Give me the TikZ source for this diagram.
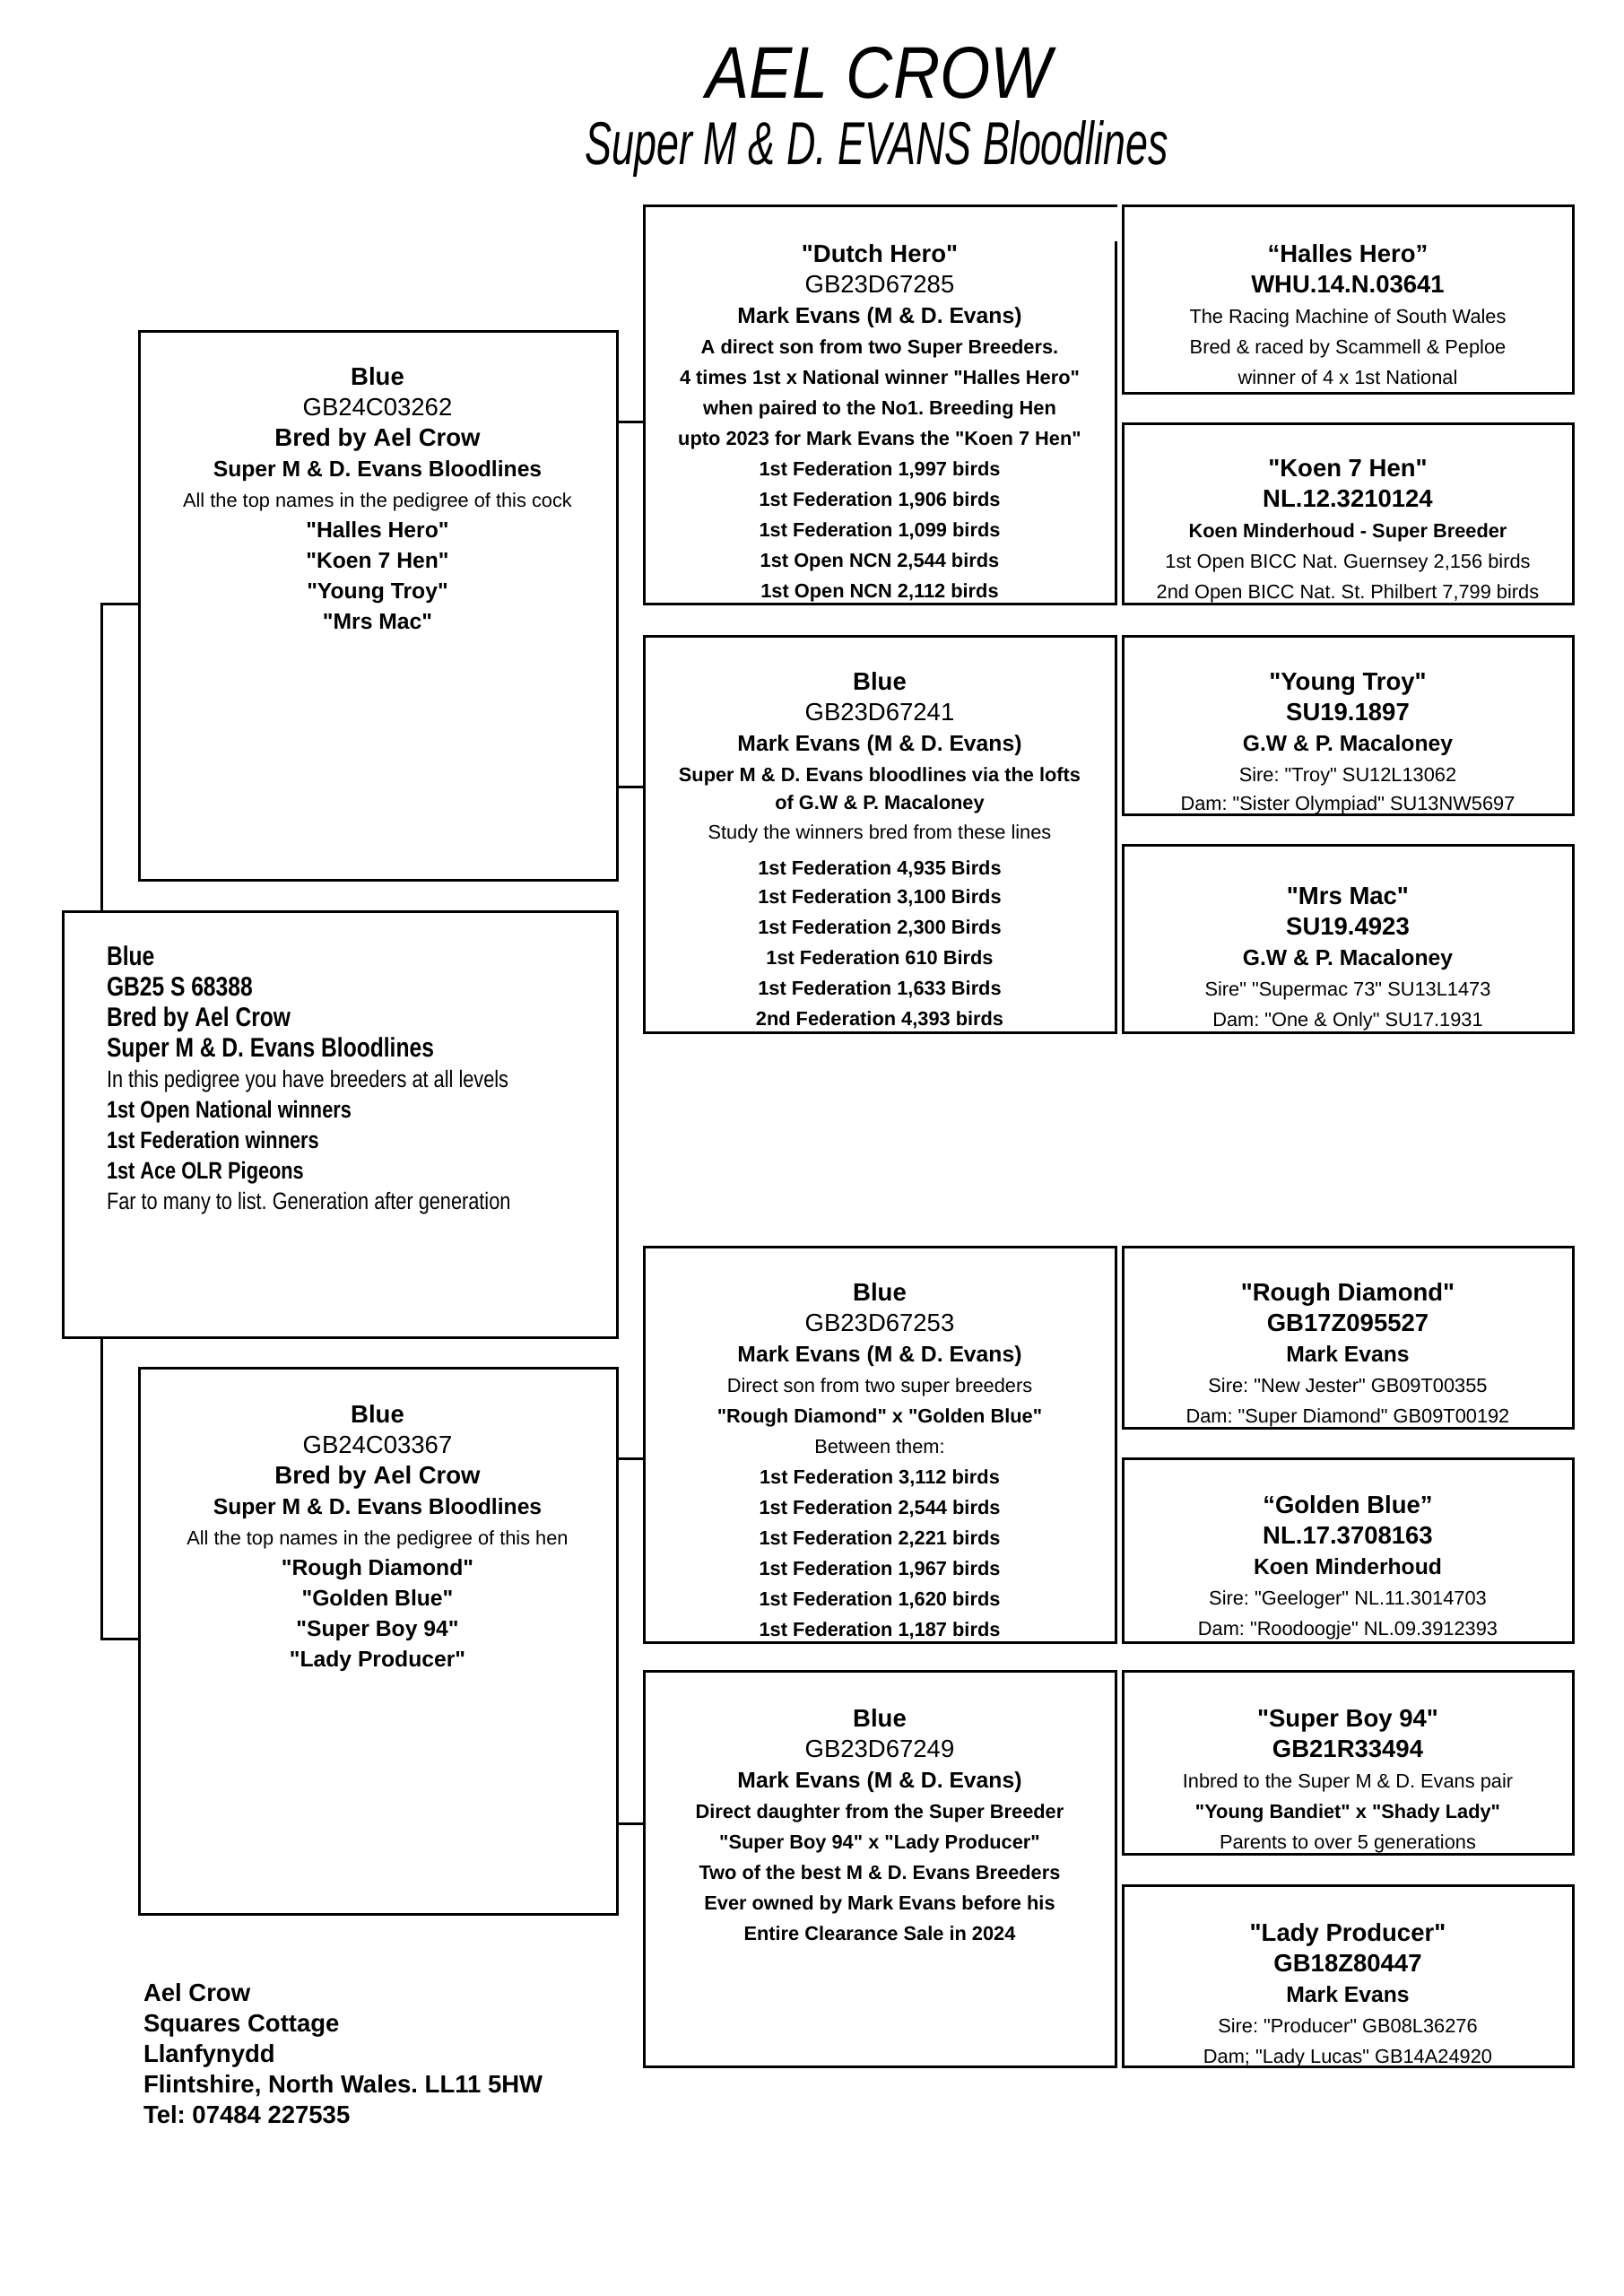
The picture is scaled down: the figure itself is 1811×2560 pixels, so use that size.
\documentclass[tikz,border=0pt]{standalone}
\usepackage{fontspec}
\usepackage{graphicx}
\newfontfamily\basefont{Liberation Sans}
\newfontfamily\narrowfont[FakeStretch=0.82]{Liberation Sans}
\newcommand\fLb{\basefont\fontsize{27.5}{34}\selectfont\bfseries}
\newcommand\fLr{\basefont\fontsize{27.5}{34}\selectfont\mdseries}
\newcommand\fMb{\basefont\fontsize{24.7}{34}\selectfont\bfseries}
\newcommand\fSb{\basefont\fontsize{21.8}{34}\selectfont\bfseries}
\newcommand\fSr{\basefont\fontsize{21.8}{34}\selectfont\mdseries}
\newcommand\fNb{\narrowfont\fontsize{30}{34}\selectfont\bfseries}
\newcommand\fNs{\narrowfont\fontsize{26.5}{34}\selectfont\bfseries}
\newcommand\fNr{\narrowfont\fontsize{26.5}{34}\selectfont\mdseries}
\tikzset{
  pbox/.style={draw=black, line width=3pt, fill=white, inner sep=0pt, outer sep=0pt, anchor=north west},
  conn/.style={draw=black, line width=3pt, line cap=rect},
  txt/.style={inner sep=0pt, outer sep=0pt, anchor=base, font=\basefont\fontsize{21.8}{34}\selectfont},
  txtl/.style={txt, anchor=base west},
}
\begin{document}
\frenchspacing
\begin{tikzpicture}[x=1pt,y=-1pt]
\useasboundingbox (0,0) rectangle (1811,2560);
\fill[white] (0,0) rectangle (1811,2560);

% title
\node[txt] (title) at (980,109) {\resizebox{385pt}{57pt}{\basefont\itshape AEL CROW}};
\node[txt] (subtitle) at (978,183) {\resizebox{650pt}{49pt}{\basefont\itshape Super M \& D. EVANS Bloodlines}};

% boxes
\node[pbox, minimum width=618pt, minimum height=475pt] (g1) at (70,1016) {};
\node[pbox, minimum width=533pt, minimum height=612pt] (g2a) at (155,369) {};
\node[pbox, minimum width=533pt, minimum height=609pt] (g2b) at (155,1525) {};
\node[pbox, draw=none, minimum width=526pt, minimum height=444pt] (g3a) at (718,229) {};
\draw[conn, line cap=butt] ([yshift=-40pt]g3a.north east) -- (g3a.south east) -- (g3a.south west) -- (g3a.north west) -- ([xshift=1.5pt]g3a.north east);
\node[pbox, minimum width=526pt, minimum height=442pt] (g3b) at (718,709) {};
\node[pbox, minimum width=526pt, minimum height=441pt] (g3c) at (718,1390) {};
\node[pbox, minimum width=526pt, minimum height=441pt] (g3d) at (718,1863) {};
\node[pbox, minimum width=502pt, minimum height=209pt] (g4a) at (1252,229) {};
\node[pbox, minimum width=502pt, minimum height=201pt] (g4b) at (1252,472) {};
\node[pbox, minimum width=502pt, minimum height=199pt] (g4c) at (1252,709) {};
\node[pbox, minimum width=502pt, minimum height=209pt] (g4d) at (1252,942) {};
\node[pbox, minimum width=502pt, minimum height=202pt] (g4e) at (1252,1390) {};
\node[pbox, minimum width=502pt, minimum height=205pt] (g4f) at (1252,1626) {};
\node[pbox, minimum width=502pt, minimum height=204pt] (g4g) at (1252,1863) {};
\node[pbox, minimum width=502pt, minimum height=202pt] (g4h) at (1252,2102) {};

% connectors
\coordinate (bx) at (113,0);
\draw[conn] (g2a.west |- 0,673) -| (bx |- g1.north);
\draw[conn] (g2b.west |- 0,1827) -| (bx |- g1.south);
\draw[conn] (g2a.east |- 0,470) -- (g3a.west |- 0,470);
\draw[conn] (g2a.east |- 0,877) -- (g3b.west |- 0,877);
\draw[conn] (g2b.east |- 0,1626) -- (g3c.west |- 0,1626);
\draw[conn] (g2b.east |- 0,2033) -- (g3d.west |- 0,2033);

% generation 1
\node[txtl] (t1) at (119,1076) {\begin{tabular}[t]{@{}l@{}}
\fNb Blue\\
\fNb GB25 S 68388\\
\fNb Bred by Ael Crow\\
\fNb Super M \& D. Evans Bloodlines\\
\fNr In this pedigree you have breeders at all levels\\
\fNs 1st Open National winners\\
\fNs 1st Federation winners\\
\fNs 1st Ace OLR Pigeons\\
\fNr Far to many to list. Generation after generation
\end{tabular}};

% generation 2
\node[txt] (t2a) at (421,429) {\begin{tabular}[t]{@{}c@{}}
\fLb Blue\\
\fLr GB24C03262\\
\fLb Bred by Ael Crow\\
\fMb Super M \& D. Evans Bloodlines\\
\fSr All the top names in the pedigree of this cock\\
\fMb "Halles Hero"\\
\fMb "Koen 7 Hen"\\
\fMb "Young Troy"\\
\fMb "Mrs Mac"
\end{tabular}};
\node[txt] (t2b) at (421,1586) {\begin{tabular}[t]{@{}c@{}}
\fLb Blue\\
\fLr GB24C03367\\
\fLb Bred by Ael Crow\\
\fMb Super M \& D. Evans Bloodlines\\
\fSr All the top names in the pedigree of this hen\\
\fMb "Rough Diamond"\\
\fMb "Golden Blue"\\
\fMb "Super Boy 94"\\
\fMb "Lady Producer"
\end{tabular}};

% generation 3
\node[txt] (t3a) at (981,292) {\begin{tabular}[t]{@{}c@{}}
\fLb "Dutch Hero"\\
\fLr GB23D67285\\
\fMb Mark Evans (M \& D. Evans)\\
\fSb A direct son from two Super Breeders.\\
\fSb 4 times 1st x National winner "Halles Hero"\\
\fSb when paired to the No1. Breeding Hen\\
\fSb upto 2023 for Mark Evans the "Koen 7 Hen"\\
\fSb 1st Federation 1,997 birds\\
\fSb 1st Federation 1,906 birds\\
\fSb 1st Federation 1,099 birds\\
\fSb 1st Open NCN 2,544 birds\\
\fSb 1st Open NCN 2,112 birds
\end{tabular}};
\node[txt] (t3b) at (981,769) {\begin{tabular}[t]{@{}c@{}}
\fLb Blue\\
\fLr GB23D67241\\
\fMb Mark Evans (M \& D. Evans)\\
\fSb Super M \& D. Evans bloodlines via the lofts\\[-3pt]
\fSb of G.W \& P. Macaloney\\[-1pt]
\fSr Study the winners bred from these lines\\[6pt]
\fSb 1st Federation 4,935 Birds\\[-2pt]
\fSb 1st Federation 3,100 Birds\\
\fSb 1st Federation 2,300 Birds\\
\fSb 1st Federation 610 Birds\\
\fSb 1st Federation 1,633 Birds\\
\fSb 2nd Federation 4,393 birds
\end{tabular}};
\node[txt] (t3c) at (981,1450) {\begin{tabular}[t]{@{}c@{}}
\fLb Blue\\
\fLr GB23D67253\\
\fMb Mark Evans (M \& D. Evans)\\
\fSr Direct son from two super breeders\\
\fSb "Rough Diamond" x "Golden Blue"\\
\fSr Between them:\\
\fSb 1st Federation 3,112 birds\\
\fSb 1st Federation 2,544 birds\\
\fSb 1st Federation 2,221 birds\\
\fSb 1st Federation 1,967 birds\\
\fSb 1st Federation 1,620 birds\\
\fSb 1st Federation 1,187 birds
\end{tabular}};
\node[txt] (t3d) at (981,1925) {\begin{tabular}[t]{@{}c@{}}
\fLb Blue\\
\fLr GB23D67249\\
\fMb Mark Evans (M \& D. Evans)\\
\fSb Direct daughter from the Super Breeder\\
\fSb "Super Boy 94" x "Lady Producer"\\
\fSb Two of the best M \& D. Evans Breeders\\
\fSb Ever owned by Mark Evans before his\\
\fSb Entire Clearance Sale in 2024
\end{tabular}};

% generation 4
\node[txt] (t4a) at (1503,292) {\begin{tabular}[t]{@{}c@{}}
\fLb “Halles Hero”\\
\fLb WHU.14.N.03641\\
\fSr The Racing Machine of South Wales\\
\fSr Bred \& raced by Scammell \& Peploe\\
\fSr winner of 4 x 1st National
\end{tabular}};
\node[txt] (t4b) at (1503,531) {\begin{tabular}[t]{@{}c@{}}
\fLb "Koen 7 Hen"\\
\fLb NL.12.3210124\\
\fSb Koen Minderhoud - Super Breeder\\
\fSr 1st Open BICC Nat. Guernsey 2,156 birds\\
\fSr 2nd Open BICC Nat. St. Philbert 7,799 birds
\end{tabular}};
\node[txt] (t4c) at (1503,769) {\begin{tabular}[t]{@{}c@{}}
\fLb "Young Troy"\\
\fLb SU19.1897\\
\fMb G.W \& P. Macaloney\\
\fSr Sire: "Troy" SU12L13062\\[-2pt]
\fSr Dam: "Sister Olympiad" SU13NW5697
\end{tabular}};
\node[txt] (t4d) at (1503,1008) {\begin{tabular}[t]{@{}c@{}}
\fLb "Mrs Mac"\\
\fLb SU19.4923\\
\fMb G.W \& P. Macaloney\\
\fSr Sire" "Supermac 73" SU13L1473\\
\fSr Dam: "One \& Only" SU17.1931
\end{tabular}};
\node[txt] (t4e) at (1503,1450) {\begin{tabular}[t]{@{}c@{}}
\fLb "Rough Diamond"\\
\fLb GB17Z095527\\
\fMb Mark Evans\\
\fSr Sire: "New Jester" GB09T00355\\
\fSr Dam: "Super Diamond" GB09T00192
\end{tabular}};
\node[txt] (t4f) at (1503,1687) {\begin{tabular}[t]{@{}c@{}}
\fLb “Golden Blue”\\
\fLb NL.17.3708163\\
\fMb Koen Minderhoud\\
\fSr Sire: "Geeloger" NL.11.3014703\\
\fSr Dam: "Roodoogje" NL.09.3912393
\end{tabular}};
\node[txt] (t4g) at (1503,1925) {\begin{tabular}[t]{@{}c@{}}
\fLb "Super Boy 94"\\
\fLb GB21R33494\\
\fSr Inbred to the Super M \& D. Evans pair\\
\fSb "Young Bandiet" x "Shady Lady"\\
\fSr Parents to over 5 generations
\end{tabular}};
\node[txt] (t4h) at (1503,2164) {\begin{tabular}[t]{@{}c@{}}
\fLb "Lady Producer"\\
\fLb GB18Z80447\\
\fMb Mark Evans\\
\fSr Sire: "Producer" GB08L36276\\
\fSr Dam; "Lady Lucas" GB14A24920
\end{tabular}};

% address
\node[txtl] (addr) at (160,2231) {\begin{tabular}[t]{@{}l@{}}
\fLb Ael Crow\\
\fLb Squares Cottage\\
\fLb Llanfynydd\\
\fLb Flintshire, North Wales. LL11 5HW\\
\fLb Tel: 07484 227535
\end{tabular}};
\end{tikzpicture}
\end{document}
